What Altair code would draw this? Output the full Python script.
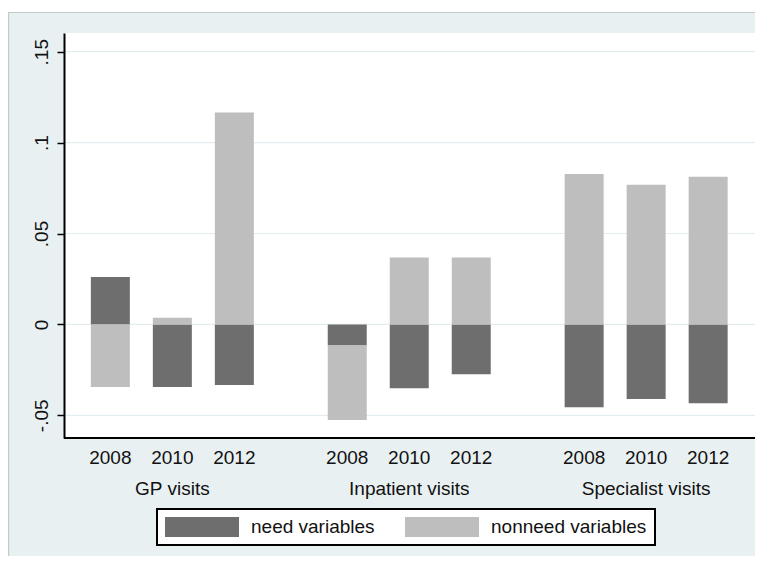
import altair as alt
import pandas as pd

groups = ["GP visits", "Inpatient visits", "Specialist visits"]
years = ["2008", "2010", "2012"]
components = ["need variables", "nonneed variables"]

need = [0.0261, -0.0344, -0.0333, -0.0113, -0.0351, -0.0274, -0.0456, -0.0410, -0.0434]
nonneed = [-0.0344, 0.0036, 0.1166, -0.0413, 0.0368, 0.0368, 0.0827, 0.0768, 0.0812]

y_ticks = [-0.05, 0, 0.05, 0.1, 0.15]

rows = []
i = 0
for g in groups:
    for yr in years:
        rows.append({"group": g, "year": yr, "component": components[0], "value": need[i]})
        rows.append({"group": g, "year": yr, "component": components[1], "value": nonneed[i]})
        i += 1
df = pd.DataFrame(rows)
grid_df = pd.DataFrame({"tick": y_ticks})
one_df = pd.DataFrame({"k": [0]})

W, H = 691, 405
FONT = "Liberation Sans"
FS = 19
BG = "#e9f0f2"
TXT = "#111111"

xscale = alt.Scale(domain=groups, range=[-10.1, 700.6], paddingInner=0, paddingOuter=0)
xoff = alt.Scale(domain=years, paddingInner=0.371, paddingOuter=0.596)
yscale = alt.Scale(domain=[-0.0625, 0.1603], nice=False, zero=False)

yaxis = alt.Axis(title=None, values=y_ticks, grid=False, zindex=1,
                 labelExpr="datum.value == 0 ? '0' : replace(toString(datum.value), '0.', '.')",
                 labelAngle=270, labelAlign="center", labelBaseline="alphabetic",
                 labelPadding=10, labelFontSize=FS, labelFont=FONT, labelColor=TXT,
                 tickSize=7, tickWidth=1.5, tickColor="black",
                 domainColor="black", domainWidth=2)
xaxis = alt.Axis(title=None, domain=False, ticks=False, labelPadding=41, zindex=1,
                 labelFontSize=FS, labelFont=FONT, labelColor=TXT, labelAngle=0)

# outer graph region (light bluish) with thin border, and white plot region
outer = alt.Chart(one_df).mark_rect(fill=BG, stroke="#c4c9ca", strokeWidth=1.2).encode(
    x=alt.value(-55.4), x2=alt.value(W + 30),
    y=alt.value(-20.5), y2=alt.value(H + 200),
)
plot_bg = alt.Chart(one_df).mark_rect(fill="white").encode(
    x=alt.value(0), x2=alt.value(W),
    y=alt.value(0), y2=alt.value(H),
)

grid = alt.Chart(grid_df).mark_rule(color="#e3ecef", strokeWidth=1.2).encode(
    y=alt.Y("tick:Q", scale=yscale, axis=yaxis),
    x=alt.value(0),
    x2=alt.value(W),
)

bars = alt.Chart(df).mark_bar(stroke=None).encode(
    x=alt.X("group:N", scale=xscale, sort=groups, axis=xaxis),
    xOffset=alt.XOffset("year:N", scale=xoff, sort=years),
    y=alt.Y("value:Q", stack="zero", scale=yscale, axis=yaxis),
    color=alt.Color("component:N",
                    scale=alt.Scale(domain=components, range=["#6e6e6e", "#bebebe"]),
                    legend=alt.Legend(title=None, orient="none", legendX=93, legendY=476,
                                      direction="horizontal", columns=2,
                                      symbolType="M-1,-0.27L1,-0.27L1,0.27L-1,0.27Z",
                                      symbolSize=5476, symbolStrokeWidth=0, symbolOpacity=1,
                                      clipHeight=20, labelOffset=12, columnPadding=30,
                                      padding=8, labelFontSize=FS, labelFont=FONT,
                                      labelColor=TXT, zindex=2,
                                      fillColor="white", strokeColor="black")),
    order=alt.Order("order_idx:Q"),
).transform_calculate(
    order_idx="datum.component == 'need variables' ? 0 : 1"
)

year_labels = alt.Chart(df).transform_filter(
    alt.datum.component == components[0]
).mark_text(fontSize=FS, font=FONT, color=TXT, baseline="middle").encode(
    x=alt.X("group:N", scale=xscale, sort=groups, axis=xaxis),
    xOffset=alt.XOffset("year:N", scale=xoff, sort=years),
    y=alt.value(H + 19.5),
    text="year:N",
)

base_line = alt.Chart(one_df).mark_rule(color="black", strokeWidth=2).encode(
    x=alt.value(0), x2=alt.value(W), y=alt.value(H)
)

chart = alt.layer(outer, plot_bg, grid, bars, year_labels, base_line).properties(
    width=W, height=H,
    background="white",
    padding={"left": 56, "top": 25, "right": 0, "bottom": 118},
    autosize=alt.AutoSizeParams(type="none"),
).configure_view(
    fill="white", stroke=None
).configure_legend(
    strokeWidth=2
)

chart.save("out.html", embed_options={"renderer": "svg", "actions": False})
